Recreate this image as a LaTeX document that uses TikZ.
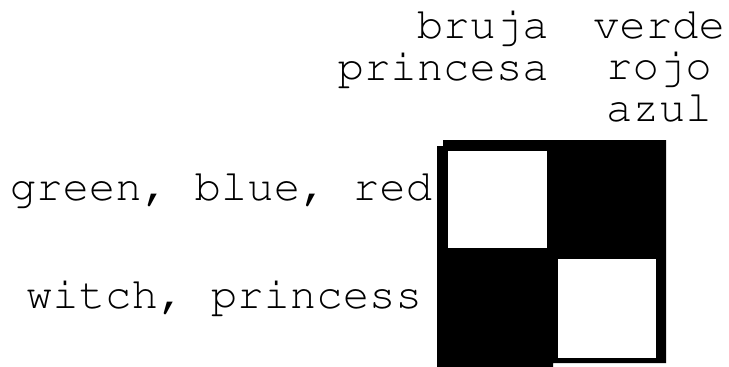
\documentclass[tikz,border=0pt]{standalone}
\usepackage[T1]{fontenc}
\usepackage{tikz}
\usetikzlibrary{positioning, calc}

\begin{document}
\begin{tikzpicture}[
    x=1pt, y=-1pt,
    tick label/.style={inner sep=0pt, font=\fontencoding{T1}\fontfamily{pcr}\fontsize{44}{41.5}\selectfont},
    cell fill/.style={fill=black, draw=none},
    hole fill/.style={fill=white, draw=none}
]

\useasboundingbox (0,0) rectangle (729,367);

% --- Matrix: black background with two white cells ---
\fill[cell fill] (443,140) -- (666,140) -- (666,363) -- (553,363) -- (553,367)
    -- (437,367) -- (437,146) -- (443,146) -- cycle;
\fill[hole fill] (448,151) rectangle (547,248);
\fill[hole fill] (558,259) rectangle (656,358);

% --- Row labels ---
\node[tick label, anchor=base] (row1) at (221,200) {green, blue, red};
\node[tick label, anchor=base] (row2) at (224,308) {witch, princess};

% --- Column labels ---
\node[tick label, anchor=base east, align=right] (col1) at (549,80) {bruja\\princesa};
\node[tick label, anchor=base, align=center] (col2) at (659,121) {verde\\rojo\\azul};

\end{tikzpicture}
\end{document}
